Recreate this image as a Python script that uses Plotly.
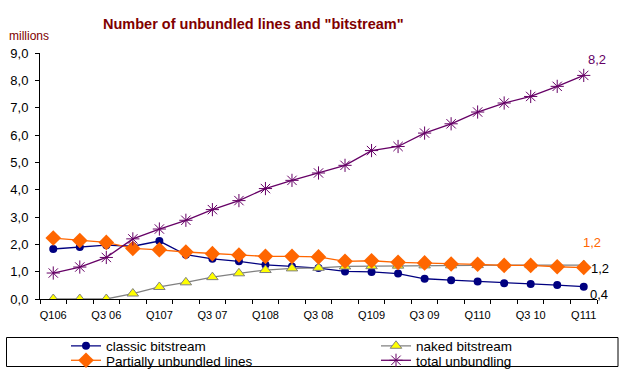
import plotly.graph_objects as go

quarters = ["Q1 06", "Q2 06", "Q3 06", "Q4 06", "Q1 07", "Q2 07", "Q3 07", "Q4 07",
            "Q1 08", "Q2 08", "Q3 08", "Q4 08", "Q1 09", "Q2 09", "Q3 09", "Q4 09",
            "Q1 10", "Q2 10", "Q3 10", "Q4 10", "Q1 11"]
tick_labels = ["Q106", "", "Q3 06", "", "Q107", "", "Q3 07", "", "Q108", "", "Q3 08", "",
               "Q109", "", "Q3 09", "", "Q110", "", "Q3 10", "", "Q111"]

classic_bitstream = [1.83, 1.90, 1.97, 1.93, 2.12, 1.62, 1.47, 1.38, 1.25, 1.19, 1.13,
                     1.01, 0.99, 0.93, 0.74, 0.69, 0.64, 0.58, 0.55, 0.51, 0.45]
naked_bitstream = [0.0, 0.0, 0.0, 0.20, 0.44, 0.61, 0.80, 0.94, 1.06, 1.12, 1.14,
                   1.19, 1.20, 1.22, 1.23, 1.23, 1.24, 1.24, 1.24, 1.24, 1.24]
partially_unbundled = [2.23, 2.14, 2.07, 1.85, 1.80, 1.72, 1.66, 1.61, 1.56, 1.56, 1.54,
                       1.38, 1.40, 1.34, 1.32, 1.28, 1.27, 1.23, 1.23, 1.18, 1.15]
total_unbundling = [0.95, 1.17, 1.52, 2.20, 2.56, 2.88, 3.27, 3.60, 4.04, 4.34, 4.61,
                    4.89, 5.43, 5.58, 6.07, 6.41, 6.84, 7.17, 7.41, 7.78, 8.18]

W, H = 620, 378
ML, MR, MT, MB = 40, 23, 53, 79
PW = W - ML - MR
PH = H - MT - MB


def px_x(x):
    return (x - ML) / PW


def px_y(y):
    return (H - MB - y) / PH


FONT = "Liberation Sans, Arial, sans-serif"
NAVY = "#000080"
ORANGE = "#FF6600"
PURPLE = "#660066"
GRAY = "#808080"
DARKRED = "#800000"

fig = go.Figure()
fig.add_trace(go.Scatter(
    x=quarters, y=classic_bitstream, name="classic bitstream", mode="lines+markers",
    line=dict(color=NAVY, width=1.3),
    marker=dict(symbol="circle", size=8, color=NAVY),
    legend="legend"))
fig.add_trace(go.Scatter(
    x=quarters, y=naked_bitstream, name="naked bitstream", mode="lines+markers",
    line=dict(color=GRAY, width=1.3),
    marker=dict(symbol="triangle-up", size=10, color="#FFFF00", line=dict(color=GRAY, width=1)),
    legend="legend2"))
fig.add_trace(go.Scatter(
    x=quarters, y=partially_unbundled, name="Partially unbundled lines", mode="lines+markers",
    line=dict(color=ORANGE, width=1.3),
    marker=dict(symbol="diamond", size=12, color=ORANGE),
    legend="legend3"))
fig.add_trace(go.Scatter(
    x=quarters, y=total_unbundling, name="total unbundling", mode="lines+markers",
    line=dict(color=PURPLE, width=1.3),
    marker=dict(symbol="asterisk-open", size=11, color=PURPLE, line=dict(color=PURPLE, width=1)),
    legend="legend4"))

last = quarters[-1]
annots = [
    dict(x=last, y=total_unbundling[-1], text="8,2", xshift=13, yshift=16,
         font=dict(color=PURPLE, size=13)),
    dict(x=last, y=partially_unbundled[-1], text="1,2", xshift=8, yshift=25,
         font=dict(color=ORANGE, size=13)),
    dict(x=last, y=naked_bitstream[-1], text="1,2", xshift=16, yshift=-3,
         font=dict(color="black", size=13)),
    dict(x=last, y=classic_bitstream[-1], text="0,4", xshift=15, yshift=-8,
         font=dict(color="black", size=13)),
]
for a in annots:
    fig.add_annotation(showarrow=False, xref="x", yref="y", **a)

fig.add_annotation(text='<b>Number of unbundled lines and "bitstream"</b>', showarrow=False,
                   xref="paper", yref="paper", x=px_x(253), y=px_y(24),
                   xanchor="center", yanchor="middle",
                   font=dict(color=DARKRED, size=14.5, family=FONT))
fig.add_annotation(text="millions", showarrow=False, xref="paper", yref="paper",
                   x=px_x(7), y=px_y(36), xanchor="left", yanchor="middle",
                   font=dict(color=DARKRED, size=12, family=FONT))

fig.add_shape(type="rect", xref="paper", yref="paper",
              x0=px_x(6.5), x1=px_x(618), y0=px_y(337.5), y1=px_y(366.5),
              line=dict(color="black", width=1), fillcolor="rgba(0,0,0,0)")


def leg(xpx, ypx):
    return dict(orientation="h", xanchor="left", yanchor="middle",
                x=px_x(xpx), y=px_y(ypx),
                font=dict(size=13.5, family=FONT, color="black"),
                bgcolor="rgba(0,0,0,0)", borderwidth=0, itemwidth=30)


fig.update_layout(
    width=W, height=H,
    margin=dict(l=ML, r=MR, t=MT, b=MB, autoexpand=False),
    paper_bgcolor="white", plot_bgcolor="white",
    separators=", ",
    font=dict(family=FONT, color="black"),
    showlegend=True,
    legend=leg(66, 346),
    legend2=leg(376, 346),
    legend3=leg(66, 360.5),
    legend4=leg(376, 360.5),
    xaxis=dict(type="category", tickmode="array", tickvals=quarters, ticktext=tick_labels,
               range=[-0.5, len(quarters) - 0.5],
               tickson="boundaries", ticks="outside", ticklen=4, tickcolor="black",
               showline=True, linecolor="black", linewidth=1, showgrid=False,
               zeroline=False, tickfont=dict(size=11, family=FONT), tickangle=0,
               ticklabelstandoff=6, fixedrange=True, automargin=False),
    yaxis=dict(range=[0, 9], dtick=1, tickformat=".1f", ticks="outside", ticklen=4,
               tickcolor="black", showline=True, linecolor="black", linewidth=1,
               showgrid=False, zeroline=False, tickfont=dict(size=13, family=FONT),
               ticklabelstandoff=4, fixedrange=True, automargin=False),
)

fig.write_html("out.html", config={"displayModeBar": False},
               post_script="document.body.style.margin='0';document.body.style.padding='0';")
